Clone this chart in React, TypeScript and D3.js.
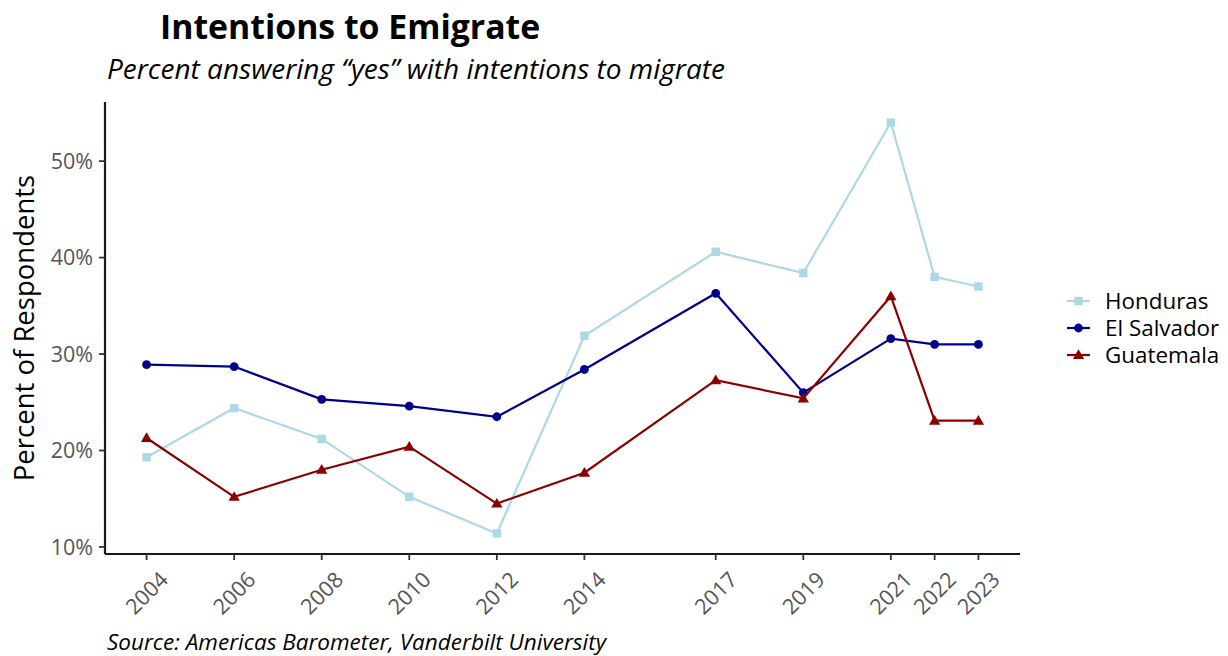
import React from "react";
import * as d3 from "d3";

const years = [2004, 2006, 2008, 2010, 2012, 2014, 2017, 2019, 2021, 2022, 2023];
const honduras = [19.3, 24.4, 21.2, 15.2, 11.4, 31.9, 40.6, 38.4, 54.0, 38.0, 37.0];
const elSalvador = [28.9, 28.7, 25.3, 24.6, 23.5, 28.4, 36.3, 26.0, 31.6, 31.0, 31.0];
const guatemala = [21.3, 15.2, 18.0, 20.4, 14.5, 17.7, 27.3, 25.4, 36.0, 23.1, 23.1];
const yTicks = [10, 20, 30, 40, 50];
const seriesNames = ["Honduras", "El Salvador", "Guatemala"];
const seriesColors = ["#ADD8E6", "#00008B", "#8B0000"];
const seriesShapes = ["square", "circle", "triangle"];

const W = 1228, H = 656;
const left = 105, right = 1020, top = 102, bottom = 554;
const FONT = "'Open Sans', sans-serif";

function Marker({ shape, x, y, color }: { shape: string; x: number; y: number; color: string }) {
  if (shape === "square") return <rect x={x - 4.2} y={y - 4.2} width={8.4} height={8.4} fill={color} />;
  if (shape === "circle") return <circle cx={x} cy={y} r={4.4} fill={color} />;
  const s = 5.4;
  return <path d={`M${x},${y - s * 1.05}L${x + s * 1.05},${y + s * 0.75}L${x - s * 1.05},${y + s * 0.75}Z`} fill={color} />;
}

export default function App() {
  const all = [...honduras, ...elSalvador, ...guatemala];
  const yMin = d3.min(all)!, yMax = d3.max(all)!;
  const yPad = (yMax - yMin) * 0.05;
  const xMin = d3.min(years)!, xMax = d3.max(years)!;
  const xPad = (xMax - xMin) * 0.05;
  const x = d3.scaleLinear().domain([xMin - xPad, xMax + xPad]).range([left, right]);
  const y = d3.scaleLinear().domain([yMin - yPad, yMax + yPad]).range([bottom, top]);
  const data = [honduras, elSalvador, guatemala];
  const line = d3.line<number>().x((_, i) => x(years[i])).y((v) => y(v));

  return (
    <svg width={W} height={H} style={{ position: "absolute", left: 0, top: 0, background: "#fff" }}>
      <rect width={W} height={H} fill="#fff" />
      <text x={160} y={39} fontFamily={FONT} fontWeight={700} fontSize={33.8} fill="#000">Intentions to Emigrate</text>
      <text x={107} y={79} fontFamily={FONT} fontStyle="italic" fontSize={28} fill="#000">Percent answering “yes” with intentions to migrate</text>

      {/* axes */}
      <line x1={left} x2={right} y1={bottom} y2={bottom} stroke="#1a1a1a" strokeWidth={2.2} />
      <line x1={left} x2={left} y1={top} y2={bottom} stroke="#1a1a1a" strokeWidth={2.2} />
      {yTicks.map((t) => (
        <g key={t}>
          <line x1={left - 6} x2={left} y1={y(t)} y2={y(t)} stroke="#333" strokeWidth={1.8} />
          <text x={left - 12} y={y(t)} dy="0.36em" textAnchor="end" fontFamily={FONT} fontSize={21.5} fill="#555">{t}%</text>
        </g>
      ))}
      {years.map((yr) => (
        <g key={yr}>
          <line x1={x(yr)} x2={x(yr)} y1={bottom} y2={bottom + 6} stroke="#333" strokeWidth={1.8} />
          <text
            transform={`translate(${x(yr)},${593}) rotate(-45)`}
            textAnchor="middle"
            dy="0.36em"
            fontFamily={FONT}
            fontSize={21.5}
            fill="#555"
          >{yr}</text>
        </g>
      ))}
      <text transform={`translate(34,${(top + bottom) / 2}) rotate(-90)`} textAnchor="middle" fontFamily={FONT} fontSize={27.5} fill="#000">Percent of Respondents</text>

      {/* series */}
      {data.map((vals, si) => (
        <g key={si}>
          <path d={line(vals)!} fill="none" stroke={seriesColors[si]} strokeWidth={2.2} />
          {vals.map((v, i) => (
            <Marker key={i} shape={seriesShapes[si]} x={x(years[i])} y={y(v)} color={seriesColors[si]} />
          ))}
        </g>
      ))}

      {/* legend */}
      {seriesNames.map((n, i) => {
        const ly = 301 + i * 27;
        return (
          <g key={n}>
            <line x1={1067} x2={1090} y1={ly} y2={ly} stroke={seriesColors[i]} strokeWidth={2.2} />
            <Marker shape={seriesShapes[i]} x={1078.5} y={ly} color={seriesColors[i]} />
            <text x={1105} y={ly} dy="0.36em" fontFamily={FONT} fontSize={22.4} fill="#000">{n}</text>
          </g>
        );
      })}

      <text x={107} y={650} fontFamily={FONT} fontStyle="italic" fontSize={22.5} fill="#000">Source: Americas Barometer, Vanderbilt University</text>
    </svg>
  );
}
